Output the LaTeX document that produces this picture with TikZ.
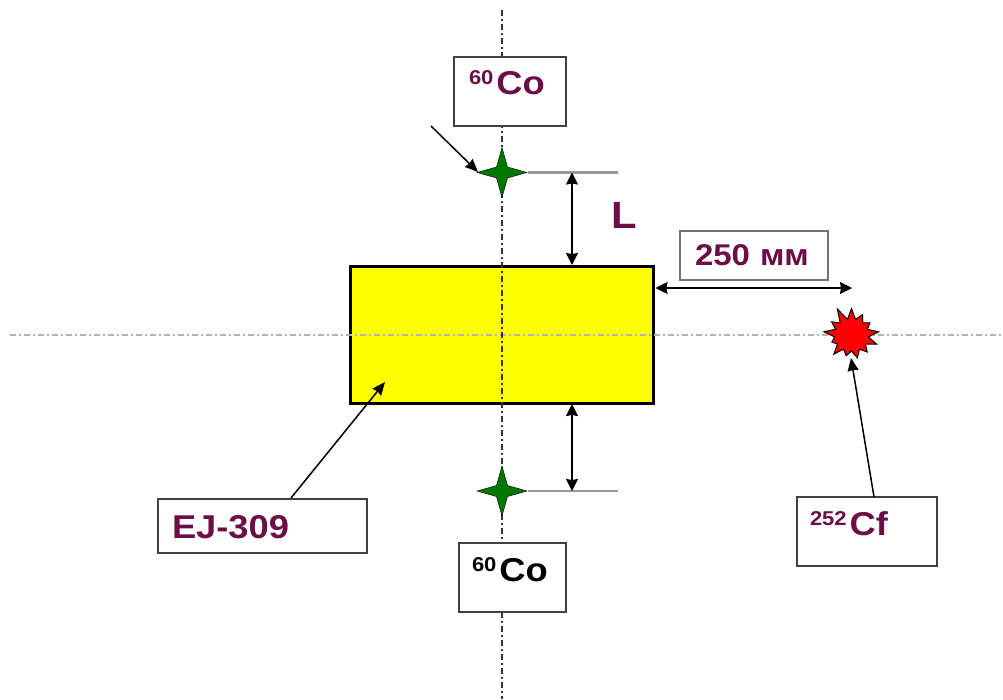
\documentclass[tikz,border=0pt]{standalone}
\usepackage{fontspec}
\setmainfont{Liberation Sans}
\newfontfamily\tagfont[FakeStretch=1.1]{Liberation Sans}
\usetikzlibrary{arrows.meta,shapes.geometric,shapes.symbols}
\definecolor{tagtext}{RGB}{107,15,70}
\definecolor{stargreen}{RGB}{0,120,0}
\definecolor{crystalfill}{RGB}{255,255,0}
\definecolor{burstfill}{RGB}{255,0,0}
\newcommand{\iso}[1]{\raisebox{10pt}{\fontsize{20}{20}\selectfont #1}\hspace{3pt}}
\tikzset{
  tagbox/.style n args={4}{draw=black!75,fill=white,line width=1.3pt,inner ysep=0pt,
    inner xsep=#2pt,text width=#1pt-2*#2pt,align=left,text height=#3pt,text depth=#4pt,
    font=\tagfont\bfseries\fontsize{33}{33}\selectfont,text=tagtext},
  axis/.style={line width=1.8pt,dash pattern=on 6pt off 3pt on 2pt off 3pt},
  dim/.style={line width=1.7pt,{Stealth[length=12pt,width=12pt,inset=1pt]}-{Stealth[length=12pt,width=12pt,inset=1pt]}},
  pointer/.style={line width=1.5pt,-{Stealth[length=13pt,width=11pt,inset=1pt]}},
  guide/.style={draw=black!40,line width=2.5pt},
  source/.style={star,star points=4,star point ratio=3.2,draw=black,fill=stargreen,inner sep=0pt,minimum size=50pt}
}
\begin{document}
\begin{tikzpicture}[x=1pt,y=-1pt]
\useasboundingbox (0,0) rectangle (1003,699);
% scintillator
\node[draw=black,fill=crystalfill,line width=3pt,minimum width=303pt,minimum height=137pt,inner sep=0pt] (crystal) at (501.5,334.5) {};
% axes
\coordinate (axisW) at (10,335);
\coordinate (axisE) at (1003,335);
\coordinate (axisN) at (502,10);
\coordinate (axisS) at (502,699);
\draw[axis,black!30] (axisW) -- (axisE);
\draw[axis,black!80] (axisN) -- (axisS);
% sources
\node[source] (coStarTop) at (502,172.5) {};
\node[source] (coStarBot) at (502,491) {};
\node[starburst,starburst points=13,starburst point height=14pt,random starburst=11,draw=black,fill=burstfill,line width=1pt,inner sep=0pt,minimum width=62pt,minimum height=60pt] (cfStar) at (851.5,335) {};
% labels
\node[tagbox={112}{15}{37}{32}] (coTop) at (510,91.5) {\iso{60}Co};
\node[tagbox={107}{13}{38}{31},text=black] (coBot) at (512.5,577.5) {\iso{60}Co};
\node[tagbox={209}{14}{39}{15}] (ej) at (262.5,526) {EJ-309};
\node[tagbox={140}{13}{38}{31}] (cf) at (867,531.5) {\iso{252}Cf};
\node[tagbox={148}{15}{34}{15},draw=black!55,font=\tagfont\bfseries\fontsize{30}{30}\selectfont] (dist) at (754,255.5) {\mbox{250 мм}};
\node[inner sep=0pt,font=\tagfont\bfseries\fontsize{38}{38}\selectfont,text=tagtext] (ell) at (624,215) {L};
% guide lines
\coordinate (guideTop) at (618,172.5);
\coordinate (guideBot) at (618,491);
\draw[guide] (coStarTop.east) -- (guideTop);
\draw[guide] (coStarBot.east) -- (guideBot);
% dimensions
\coordinate (topA) at (572,172.5);
\coordinate (topB) at (572,265);
\coordinate (botA) at (572,404);
\coordinate (botB) at (572,491);
\coordinate (distA) at (655.5,288);
\coordinate (distB) at (852,288);
\draw[dim] (topA) -- (topB);
\draw[dim] (botA) -- (botB);
\draw[dim] (distA) -- (distB);
% pointers
\coordinate (ptrStart) at (431,126);
\coordinate (ptrStar) at (478,172);
\coordinate (ptrCrystal) at (385,382);
\coordinate (ptrEj) at (291,498);
\coordinate (ptrCf) at (874,497);
\coordinate (ptrBurst) at (851,358);
\draw[pointer] (ptrStart) -- (ptrStar);
\draw[pointer] (ptrEj) -- (ptrCrystal);
\draw[pointer] (ptrCf) -- (ptrBurst);
\end{tikzpicture}
\end{document}
